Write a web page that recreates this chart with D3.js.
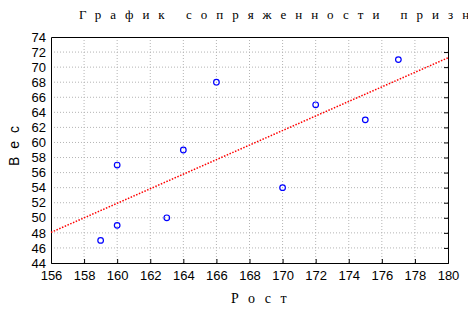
<!DOCTYPE html>
<html>
<head>
<meta charset="utf-8">
<script src="https://cdn.jsdelivr.net/npm/d3@7"></script>
<style>
  body { margin: 0; background: #fff; }
  svg { display: block; }
</style>
</head>
<body>
<div id="chart"></div>
<script>
const heights = [159, 160, 160, 163, 164, 166, 170, 172, 175, 177];
const weights = [47, 49, 57, 50, 59, 68, 54, 65, 63, 71];
const xTicks = d3.range(156, 181, 2);
const yTicks = d3.range(44, 75, 2);
const title = "График сопряженности признаков";
const xTitle = "Рост";
const yTitle = "Вес";

const W = 468, H = 313;
const margin = { top: 37, right: 20, bottom: 50, left: 51 };
const width = 448 - margin.left;
const height = 263 - margin.top;

const svg = d3.select("#chart").append("svg")
  .attr("width", W).attr("height", H);

const g = svg.append("g").attr("transform", `translate(${margin.left},${margin.top})`);

const x = d3.scaleLinear().domain([156, 180]).range([0, width]);
const y = d3.scaleLinear().domain([44, 74]).range([height, 0]);

// сетка
g.append("g").selectAll("line").data(xTicks.slice(1, -1)).join("line")
  .attr("x1", d => x(d)).attr("x2", d => x(d))
  .attr("y1", 0).attr("y2", height)
  .attr("stroke", "#b4b4b4").attr("stroke-dasharray", "1,2");
g.append("g").selectAll("line").data(yTicks.slice(1, -1)).join("line")
  .attr("y1", d => y(d)).attr("y2", d => y(d))
  .attr("x1", 0).attr("x2", width)
  .attr("stroke", "#b4b4b4").attr("stroke-dasharray", "1,2");

// оси
g.append("g").attr("transform", `translate(0,${height})`)
  .call(d3.axisBottom(x).tickValues(xTicks).tickSize(-4).tickPadding(8).tickFormat(d3.format("d")));
g.append("g")
  .call(d3.axisLeft(y).tickValues(yTicks).tickSize(0).tickPadding(5).tickFormat(d3.format("d")));
g.append("g").attr("transform", `translate(${width},0)`)
  .call(d3.axisRight(y).tickValues(yTicks).tickSize(-4).tickFormat(""));
g.append("g")
  .call(d3.axisTop(x).tickValues(xTicks).tickSize(0).tickFormat(""));

g.selectAll(".domain").attr("stroke", "#000");
g.selectAll(".tick line").attr("stroke", "#000");
g.selectAll(".tick text")
  .attr("font-family", "Arial, 'Liberation Sans', sans-serif")
  .attr("font-size", 13).attr("fill", "#000");

// линия регрессии
const mx = d3.mean(heights), my = d3.mean(weights);
const sxy = d3.sum(heights, (h, i) => (h - mx) * (weights[i] - my));
const sxx = d3.sum(heights, h => (h - mx) ** 2);
const slope = sxy / sxx, icpt = my - slope * mx;
const fit = [156, 180].map(v => [v, icpt + slope * v]);

g.append("path")
  .attr("d", d3.line().x(d => x(d[0])).y(d => y(d[1]))(fit))
  .attr("fill", "none").attr("stroke", "#ff0000")
  .attr("stroke-width", 1.5).attr("stroke-dasharray", "1.5,1.5");

// точки
g.append("g").selectAll("circle").data(heights).join("circle")
  .attr("cx", d => x(d)).attr("cy", (d, i) => y(weights[i]))
  .attr("r", 2.8).attr("fill", "none").attr("stroke", "#0000ff").attr("stroke-width", 1.2);

// заголовки
svg.append("text").attr("x", 79).attr("y", 19)
  .attr("font-family", "'Liberation Serif', 'Times New Roman', serif")
  .attr("font-size", 13).attr("letter-spacing", 9)
  .text(title);

svg.append("text").attr("x", 231).attr("y", 303)
  .attr("font-family", "'Liberation Serif', 'Times New Roman', serif")
  .attr("font-size", 14).attr("letter-spacing", 9.5)
  .text(xTitle);

svg.append("text")
  .attr("transform", "translate(19,166) rotate(-90)")
  .attr("font-family", "Arial, 'Liberation Sans', sans-serif")
  .attr("font-size", 14).attr("letter-spacing", 8)
  .text(yTitle);
</script>
</body>
</html>
